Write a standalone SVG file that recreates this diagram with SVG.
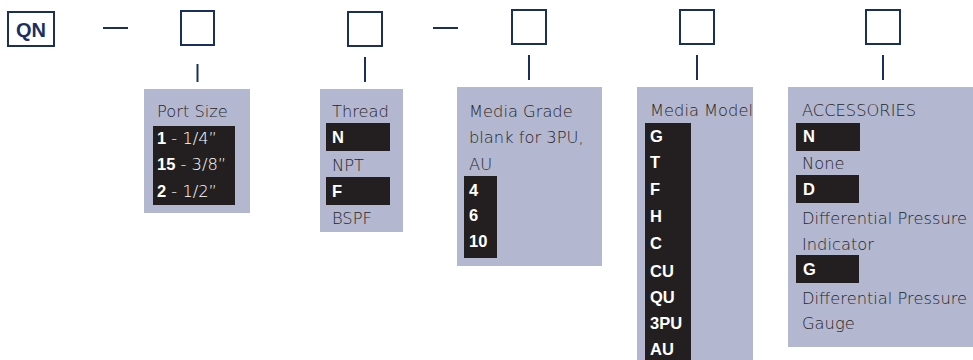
<svg xmlns="http://www.w3.org/2000/svg" width="973" height="360" viewBox="0 0 973 360">
<style>
.box{fill:#fff;stroke:#1b2f5f;stroke-width:2}
.ln{stroke:#1b2f5f;stroke-width:2;fill:none}
.panel{fill:#b3b7cf}
.dark{fill:#231f20}
.t{font-family:"DejaVu Sans","Liberation Sans",sans-serif;font-size:16.3px;font-weight:200;fill:#262626}
.w{font-family:"DejaVu Sans","Liberation Sans",sans-serif;font-size:16.3px;font-weight:200;fill:#fff}
.nb{font-family:"Liberation Sans",Arial,sans-serif;font-weight:bold;font-size:16.5px}
.b{font-family:"Liberation Sans",Arial,sans-serif;font-size:16.5px;font-weight:bold;fill:#fff}
.qn{font-family:"Liberation Sans",Arial,sans-serif;font-size:20px;font-weight:bold;fill:#1b2f5f}
</style>
<rect width="973" height="360" fill="#fff"/>
<g id="connectors">
<line class="ln" x1="103" y1="28" x2="128" y2="28"/>
<line class="ln" x1="433" y1="28" x2="458" y2="28"/>
<line class="ln" x1="197.5" y1="64" x2="197.5" y2="82"/>
<line class="ln" x1="365" y1="57" x2="365" y2="82"/>
<line class="ln" x1="529" y1="55" x2="529" y2="80"/>
<line class="ln" x1="697" y1="55" x2="697" y2="80"/>
<line class="ln" x1="883" y1="55" x2="883" y2="80"/>
</g>
<g id="qn">
<rect class="box" x="8" y="12" width="46" height="34"/>
<text class="qn" x="31" y="36.5" text-anchor="middle">QN</text>
</g>
<g id="box1"><rect class="box" x="181" y="11" width="33" height="34"/></g>
<g id="box2"><rect class="box" x="348" y="12" width="34" height="34"/></g>
<g id="box3"><rect class="box" x="512" y="10" width="34" height="34"/></g>
<g id="box4"><rect class="box" x="680" y="10" width="34" height="34"/></g>
<g id="box5"><rect class="box" x="866" y="10" width="34" height="34"/></g>
<g id="port-size">
<rect class="panel" x="144" y="89" width="106" height="124"/>
<rect class="dark" x="153" y="126" width="82" height="79"/>
<text class="t" x="157" y="117">Port Size</text>
<text class="w" x="157" y="144"><tspan class="nb">1</tspan> - 1/4”</text>
<text class="w" x="157" y="170"><tspan class="nb">15</tspan> - 3/8”</text>
<text class="w" x="157" y="197"><tspan class="nb">2</tspan> - 1/2”</text>
</g>
<g id="thread">
<rect class="panel" x="320" y="89" width="83" height="143"/>
<rect class="dark" x="326" y="123" width="64" height="28"/>
<rect class="dark" x="326" y="177" width="64" height="28"/>
<text class="t" x="332" y="117">Thread</text>
<text class="b" x="332" y="143">N</text>
<text class="t" x="332" y="171">NPT</text>
<text class="b" x="332" y="197">F</text>
<text class="t" x="332" y="224">BSPF</text>
</g>
<g id="media-grade">
<rect class="panel" x="457" y="87" width="145" height="179"/>
<rect class="dark" x="464" y="176" width="33" height="82"/>
<text class="t" x="469" y="117">Media Grade</text>
<text class="t" x="469" y="143">blank for 3PU,</text>
<text class="t" x="469" y="170">AU</text>
<text class="b" x="469" y="196">4</text>
<text class="b" x="469" y="221">6</text>
<text class="b" x="469" y="247">10</text>
</g>
<g id="media-model">
<rect class="panel" x="637" y="87" width="116" height="273"/>
<rect class="dark" x="645" y="123" width="46" height="237"/>
<text class="t" x="650" y="116">Media Model</text>
<text class="b" x="650" y="142">G</text>
<text class="b" x="650" y="168">T</text>
<text class="b" x="650" y="195">F</text>
<text class="b" x="650" y="222">H</text>
<text class="b" x="650" y="249">C</text>
<text class="b" x="650" y="277">CU</text>
<text class="b" x="650" y="303">QU</text>
<text class="b" x="650" y="329">3PU</text>
<text class="b" x="650" y="355">AU</text>
</g>
<g id="accessories">
<rect class="panel" x="788" y="87" width="185" height="260"/>
<rect class="dark" x="796" y="123" width="64" height="28"/>
<rect class="dark" x="796" y="175" width="63" height="28"/>
<rect class="dark" x="796" y="255" width="63" height="28"/>
<text class="t" x="802" y="116">ACCESSORIES</text>
<text class="b" x="803" y="142">N</text>
<text class="t" x="802" y="169">None</text>
<text class="b" x="803" y="195">D</text>
<text class="t" x="802" y="224">Differential Pressure</text>
<text class="t" x="802" y="250">Indicator</text>
<text class="b" x="803" y="275">G</text>
<text class="t" x="802" y="304">Differential Pressure</text>
<text class="t" x="802" y="329">Gauge</text>
</g>
</svg>
